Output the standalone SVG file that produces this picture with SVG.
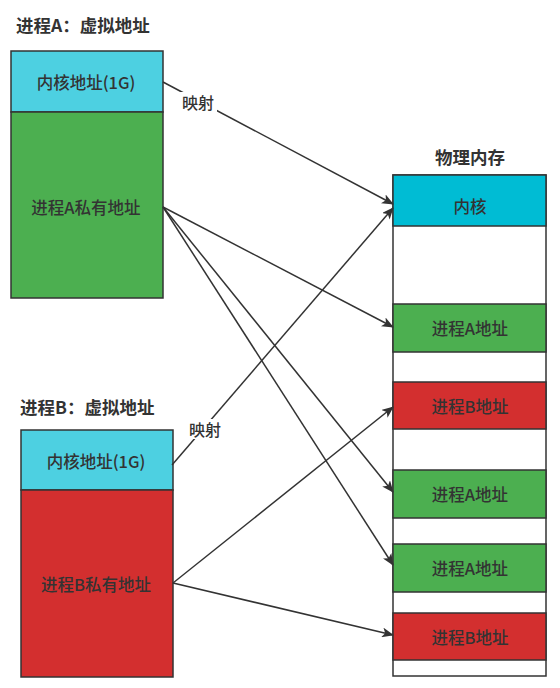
<svg xmlns="http://www.w3.org/2000/svg" width="560" height="688" viewBox="0 0 560 688">
  <defs>
    <marker id="arrow" viewBox="0 0 12 10" refX="11" refY="5" markerWidth="12" markerHeight="10" markerUnits="userSpaceOnUse" orient="auto">
      <path d="M0,0 L12,5 L0,10 L3,5 Z" fill="#333"/>
    </marker>
    <style>
      text { font-family: "Microsoft YaHei", "Noto Sans CJK SC", "Noto Sans", sans-serif; fill: #333; }
      .title { font-size: 17.5px; font-weight: bold; }
      .label { font-size: 16.5px; font-weight: 500; text-anchor: middle; dominant-baseline: central; }
      .box { stroke: #333; stroke-width: 1.5; }
      .vk { fill: #4DD0E1; }
      .pk { fill: #00BCD4; }
      .ga { fill: #4CAF50; }
      .rb { fill: #D32F2F; }
      .free { fill: #FFFFFF; }
      .conn { stroke: #333; stroke-width: 1.5; fill: none; }
      .tag { font-size: 16px; font-weight: 500; text-anchor: middle; dominant-baseline: central; }
    </style>
  </defs>

  <rect width="560" height="688" fill="#FFFFFF"/>

  <!-- process A virtual address space -->
  <g id="procA">
    <text class="title" x="16" y="32">进程A：虚拟地址</text>
    <g id="procA-kernel">
      <rect class="box vk" x="11" y="51" width="152" height="61"/>
      <text class="label" x="86" y="82">内核地址(1G)</text>
    </g>
    <g id="procA-private">
      <rect class="box ga" x="11" y="112" width="152" height="186"/>
      <text class="label" x="86" y="207">进程A私有地址</text>
    </g>
  </g>

  <!-- process B virtual address space -->
  <g id="procB">
    <text class="title" x="20" y="414">进程B：虚拟地址</text>
    <g id="procB-kernel">
      <rect class="box vk" x="21" y="430" width="152" height="60"/>
      <text class="label" x="96" y="461">内核地址(1G)</text>
    </g>
    <g id="procB-private">
      <rect class="box rb" x="21" y="490" width="152" height="187"/>
      <text class="label" x="96" y="584">进程B私有地址</text>
    </g>
  </g>

  <!-- physical memory -->
  <g id="phys">
    <text class="title" x="470" y="164" text-anchor="middle">物理内存</text>
    <rect class="box free" x="393" y="175" width="153" height="501"/>
    <g id="phys-kernel">
      <rect class="box pk" x="393" y="175" width="153" height="51"/>
      <text class="label" x="470" y="206">内核</text>
    </g>
    <g id="phys-a1">
      <rect class="box ga" x="393" y="304" width="153" height="48"/>
      <text class="label" x="470" y="328">进程A地址</text>
    </g>
    <g id="phys-b1">
      <rect class="box rb" x="393" y="382" width="153" height="47"/>
      <text class="label" x="470" y="406">进程B地址</text>
    </g>
    <g id="phys-a2">
      <rect class="box ga" x="393" y="470" width="153" height="48"/>
      <text class="label" x="470" y="494">进程A地址</text>
    </g>
    <g id="phys-a3">
      <rect class="box ga" x="393" y="544" width="153" height="48"/>
      <text class="label" x="470" y="568">进程A地址</text>
    </g>
    <g id="phys-b2">
      <rect class="box rb" x="393" y="613" width="153" height="47"/>
      <text class="label" x="470" y="637">进程B地址</text>
    </g>
  </g>

  <!-- mappings -->
  <g id="connectors">
    <line class="conn" x1="163" y1="82" x2="393" y2="204" marker-end="url(#arrow)"/>
    <line class="conn" x1="172" y1="465" x2="393" y2="208" marker-end="url(#arrow)"/>
    <line class="conn" x1="163" y1="207" x2="393" y2="327" marker-end="url(#arrow)"/>
    <line class="conn" x1="163" y1="207" x2="393" y2="492" marker-end="url(#arrow)"/>
    <line class="conn" x1="163" y1="207" x2="393" y2="565" marker-end="url(#arrow)"/>
    <line class="conn" x1="173" y1="583" x2="393" y2="407" marker-end="url(#arrow)"/>
    <line class="conn" x1="173" y1="583" x2="393" y2="635" marker-end="url(#arrow)"/>
    <g id="tag-a">
      <rect x="180" y="92" width="37" height="20" fill="#FFFFFF"/>
      <text class="tag" x="198" y="102">映射</text>
    </g>
    <g id="tag-b">
      <rect x="187" y="419" width="37" height="20" fill="#FFFFFF"/>
      <text class="tag" x="205" y="429">映射</text>
    </g>
  </g>
</svg>
